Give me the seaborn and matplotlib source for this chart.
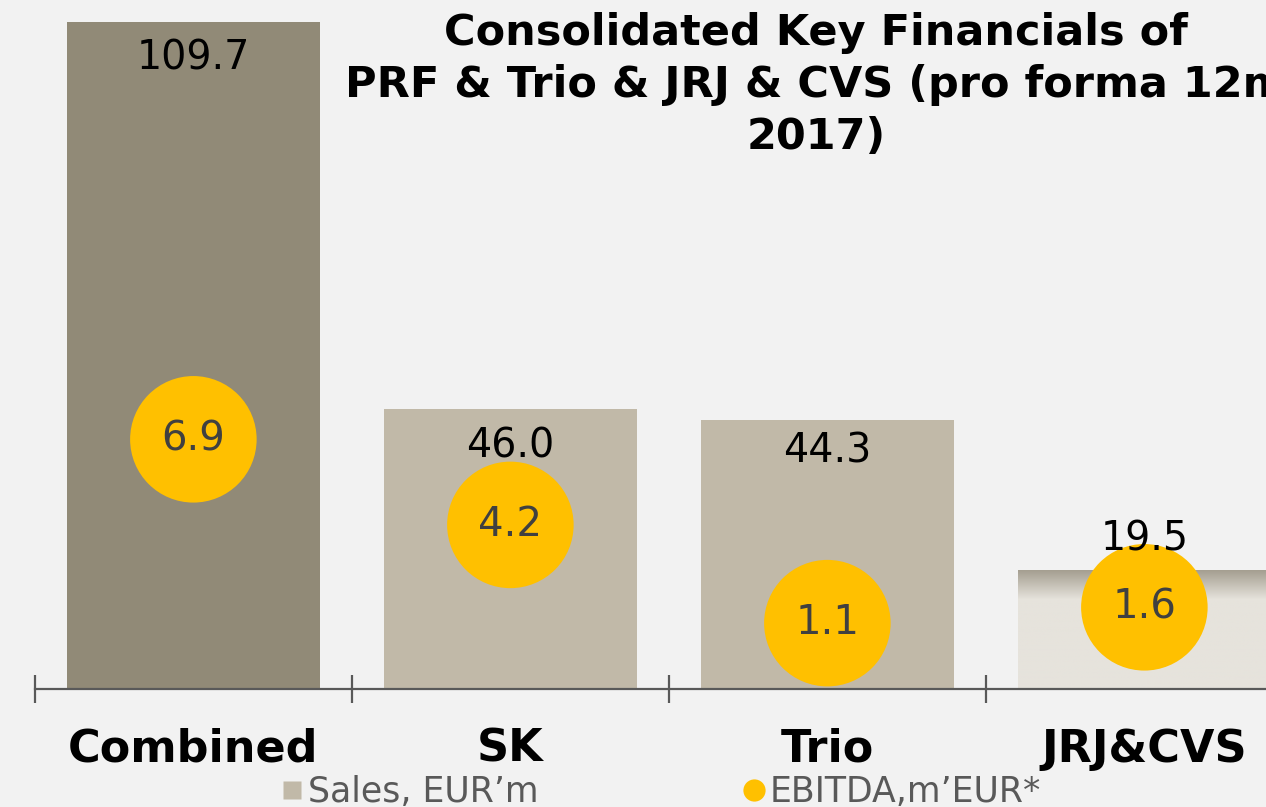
import numpy as np
import pandas as pd
import matplotlib.pyplot as plt
import seaborn as sns
from matplotlib.lines import Line2D

categories = ["Combined", "SK", "Trio", "JRJ&CVS"]
sales = [109.7, 46.0, 44.3, 19.5]
ebitda = [6.9, 4.2, 1.1, 1.6]
legend_labels = ["Sales, EUR\u2019m", "EBITDA,m\u2019EUR*"]
title = "Consolidated Key Financials of\nPRF & Trio & JRJ & CVS (pro forma 12m\n2017)"

BG = "#F2F2F2"
bar_colors = ["#918A77", "#C1B9A8", "#C1B9A8", "#E6E3DC"]
YELLOW = "#FFC000"

sns.set_theme(style="white")
plt.rcParams["font.family"] = ["DejaVu Sans"]

df = pd.DataFrame({"category": categories, "sales": sales, "ebitda": ebitda})

fig = plt.figure(figsize=(12.66, 8.07), dpi=100, facecolor=BG)
ax = fig.add_axes([0, 0.1462, 1.0, 0.8538])
ax.set_facecolor(BG)

sns.barplot(data=df, x="category", y="sales", hue="category", palette=bar_colors,
            legend=False, width=0.8, saturation=1, linewidth=0, ax=ax)

# gradient on the last bar
bar = ax.patches[3]
bb = bar.get_bbox()
grad = np.concatenate([np.linspace(0, 1, 30), np.ones(90)])[:, None]
cmap = sns.blend_palette(["#A59F91", "#E6E3DC"], as_cmap=True)
im = ax.imshow(grad, cmap=cmap, aspect="auto", extent=[bb.x0, bb.x1, bb.y0, bb.y1],
               origin="upper", zorder=bar.get_zorder() + 0.1)
im.set_clip_path(bar)

ax.set_xlim(-0.61, -0.61 + 1266 / 317)
ax.set_ylim(0, 113.3)
ax.set_ylabel("")
ax.set_xlabel("")
ax.set_yticks([])
for s in ["top", "left", "right"]:
    ax.spines[s].set_visible(False)
ax.spines["bottom"].set_color("#595959")
ax.spines["bottom"].set_linewidth(1.6)
ax.spines["bottom"].set_bounds(-0.5, 3.6)

ax.set_xticks(range(len(categories)))
ax.set_xticklabels(categories, fontsize=32, fontweight="bold", color="black")
ax.tick_params(axis="x", which="major", length=0, pad=28)
ax.set_xticks(np.arange(len(categories)) - 0.5, minor=True)
ax.tick_params(axis="x", which="minor", length=20, width=1.6, color="#595959",
               direction="inout", bottom=True)

ax2 = ax.twinx()
ax2.set_ylim(-0.978, 20.76)
ax2.set_yticks([])
for s in ax2.spines.values():
    s.set_visible(False)
sns.scatterplot(x=np.arange(len(categories)), y=ebitda, s=8300, color=YELLOW,
                edgecolor="none", ax=ax2, zorder=3, legend=False)
for i, v in enumerate(ebitda):
    ax2.text(i, v, f"{v:.1f}", ha="center", va="center", fontsize=29,
             color="#404040", zorder=4)

offsets = [-26, -27, -23, 22]
for i, v in enumerate(sales):
    ax2.annotate(f"{v:.1f}", xy=(i, v), xycoords=ax.transData,
                 xytext=(0, offsets[i]), textcoords="offset points",
                 ha="center", va="center", fontsize=28.5, color="black", zorder=5)

fig.text(0.6445, 0.985, title, ha="center", va="top", fontsize=31,
         fontweight="bold", color="black", linespacing=1.3)

handles = [
    Line2D([], [], marker="s", linestyle="none", markersize=13,
           markerfacecolor="#C1B9A8", markeredgecolor="none"),
    Line2D([], [], marker="o", linestyle="none", markersize=16,
           markerfacecolor=YELLOW, markeredgecolor="none"),
]
fig.legend(handles, legend_labels, loc="center left", bbox_to_anchor=(0.206, 0.018),
           ncol=2, frameon=False, fontsize=25, labelcolor="#595959",
           handletextpad=0.05, columnspacing=5.8, handlelength=0.8, borderpad=0)

fig.savefig("out.png", dpi=100, facecolor=BG)
